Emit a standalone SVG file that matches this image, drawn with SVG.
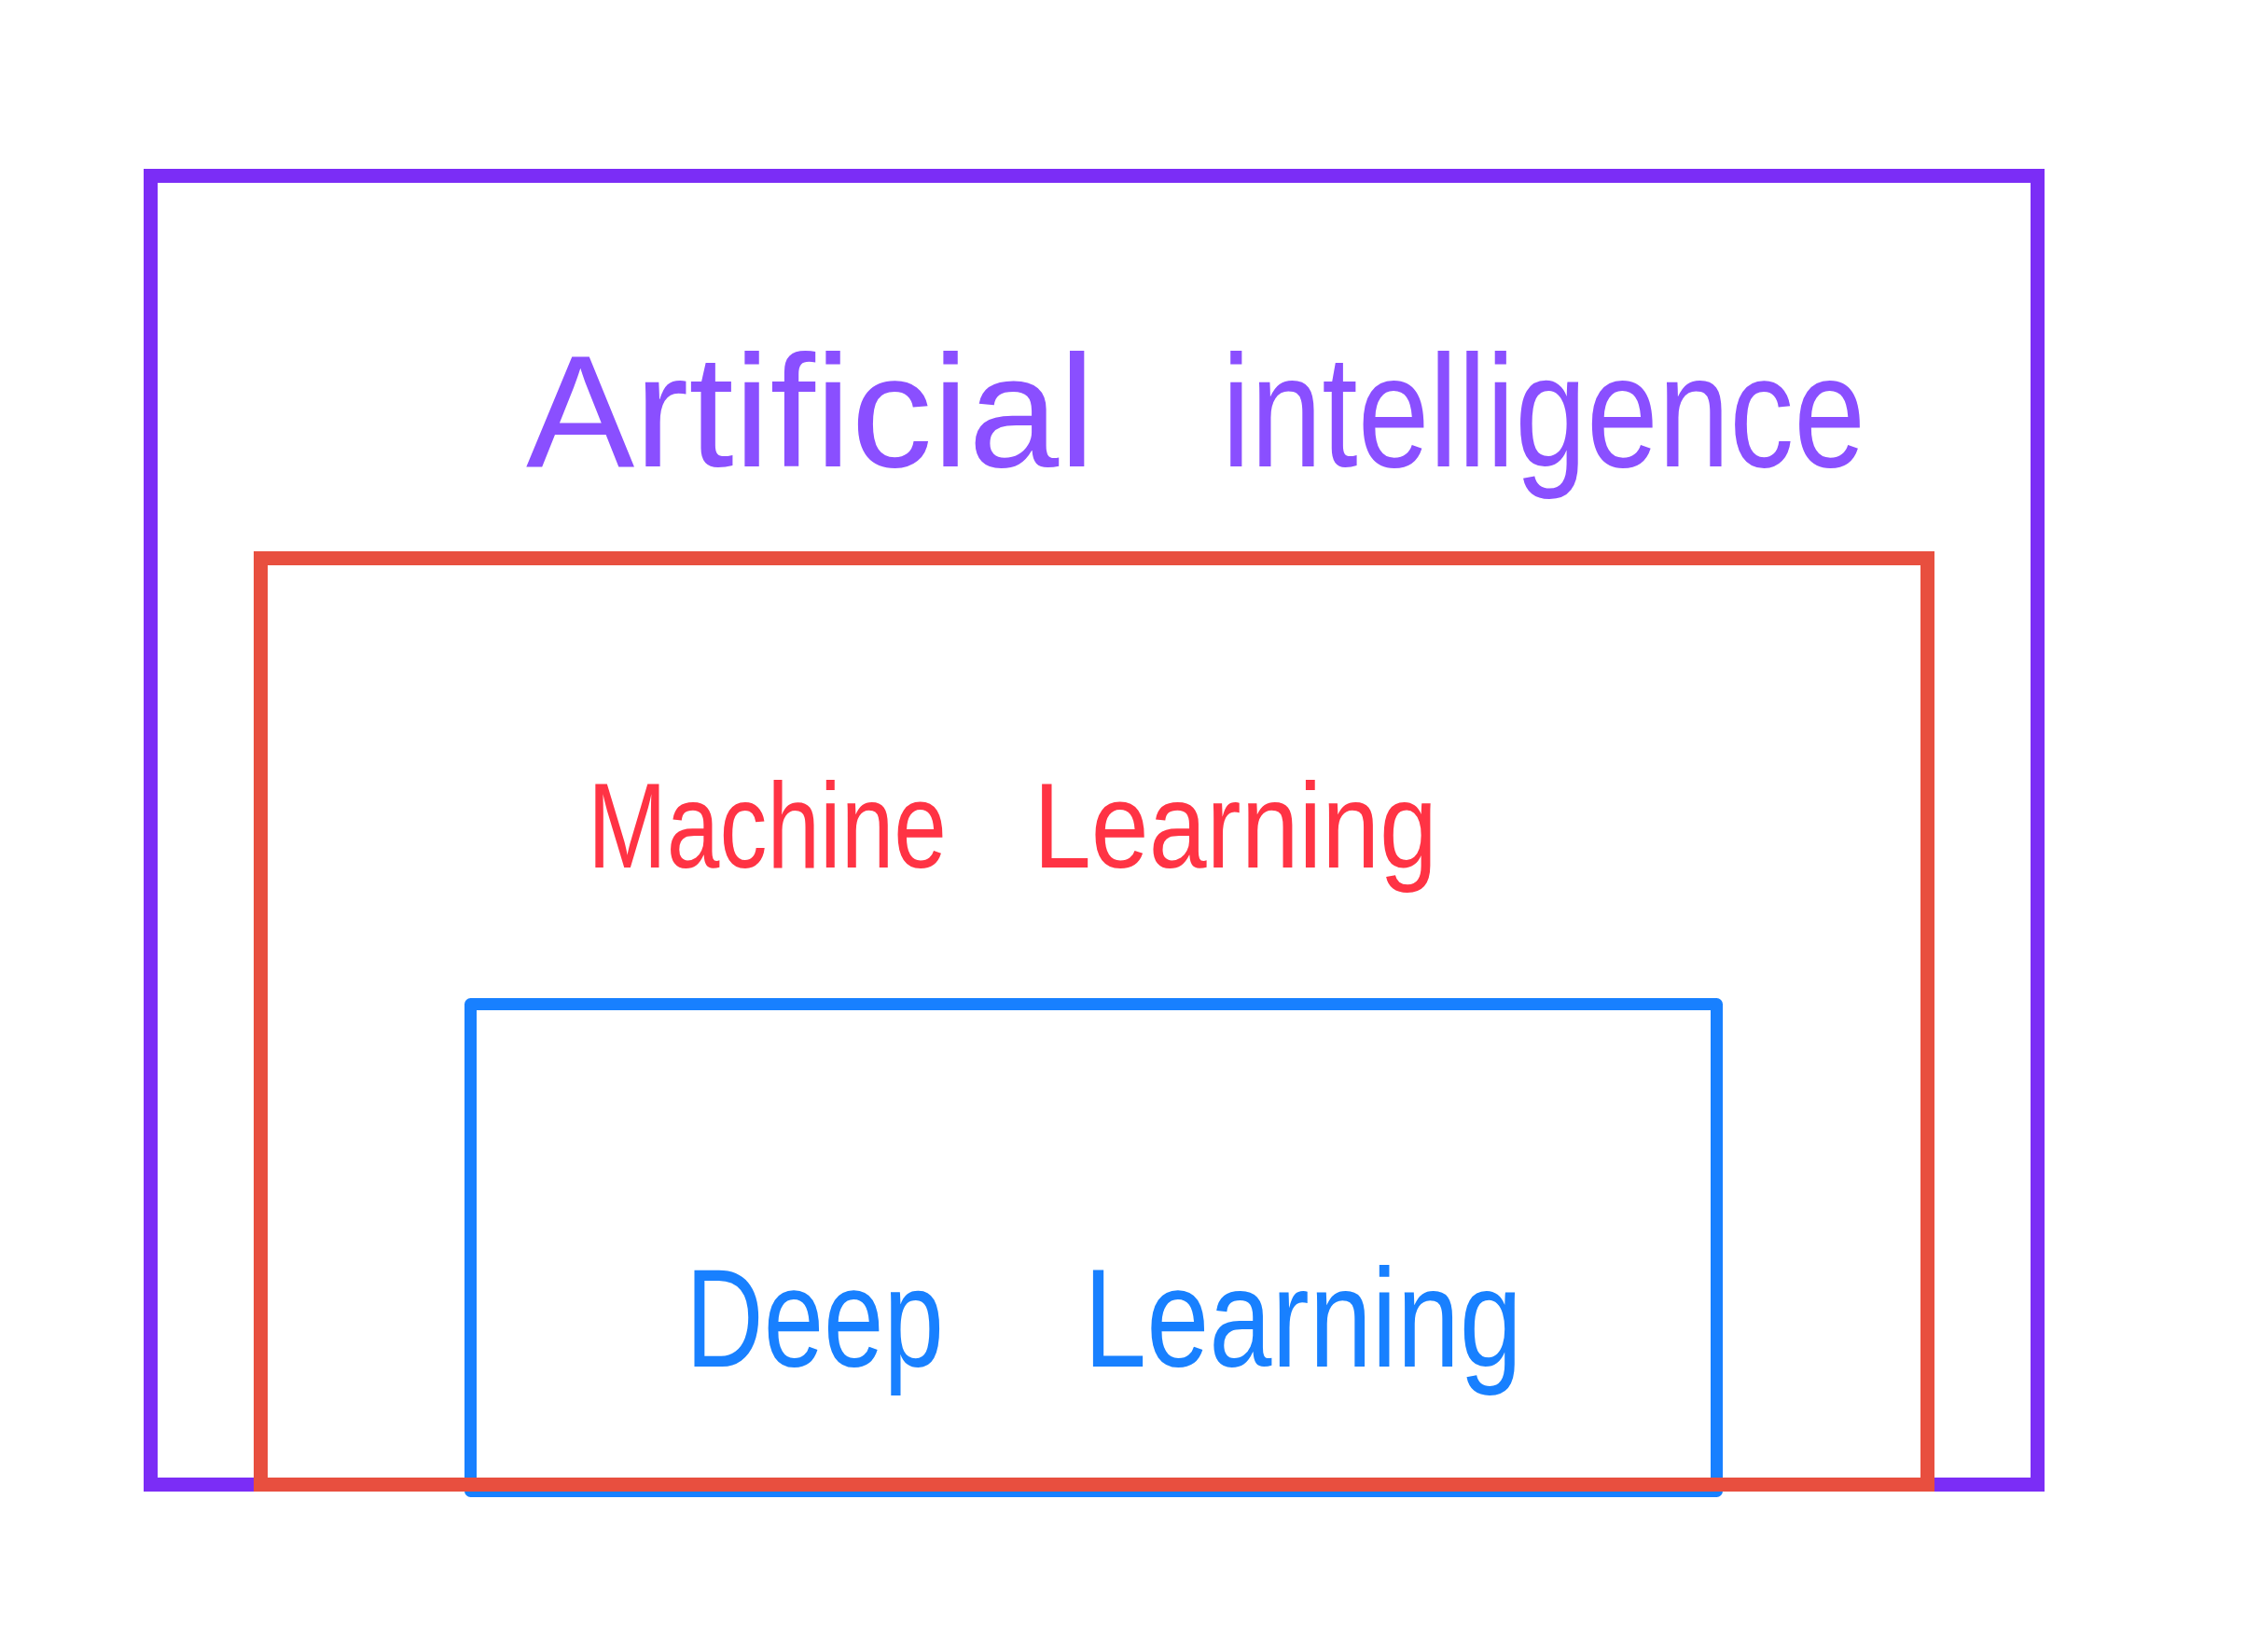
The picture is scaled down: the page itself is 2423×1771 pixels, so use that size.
<svg xmlns="http://www.w3.org/2000/svg" width="2423" height="1771" viewBox="0 0 2423 1771">
<style>
.box{fill:none}
.lbl{font-family:"Liberation Sans","Arial",sans-serif}
</style>
<rect x="0" y="0" width="2423" height="1771" fill="#ffffff"/>
<g id="node-ai">
<rect class="box" x="161.5" y="188.5" width="2023" height="1403" stroke="#7B2DF6" stroke-width="15"/>
<text class="lbl" x="564" y="500" font-size="170" fill="#8A4FFF" textLength="610" lengthAdjust="spacingAndGlyphs">Artificial</text>
<text class="lbl" x="1310" y="500" font-size="170" fill="#8A4FFF" textLength="690" lengthAdjust="spacingAndGlyphs">intelligence</text>
</g>
<g id="node-dl">
<rect class="box" x="504.5" y="1076.5" width="1336" height="522" stroke="#1880FF" stroke-width="13" stroke-linejoin="round"/>
<text class="lbl" x="735" y="1465" font-size="150" fill="#1880FF" textLength="277" lengthAdjust="spacingAndGlyphs">Deep</text>
<text class="lbl" x="1162" y="1465" font-size="150" fill="#1880FF" textLength="470" lengthAdjust="spacingAndGlyphs">Learning</text>
</g>
<g id="node-ml">
<rect class="box" x="279.5" y="598.5" width="1787" height="993" stroke="#E84F3F" stroke-width="15"/>
<text class="lbl" x="630" y="930" font-size="130" fill="#FF3344" textLength="385" lengthAdjust="spacingAndGlyphs">Machine</text>
<text class="lbl" x="1108" y="930" font-size="130" fill="#FF3344" textLength="433" lengthAdjust="spacingAndGlyphs">Learning</text>
</g>
<g id="connectors"></g>
</svg>
